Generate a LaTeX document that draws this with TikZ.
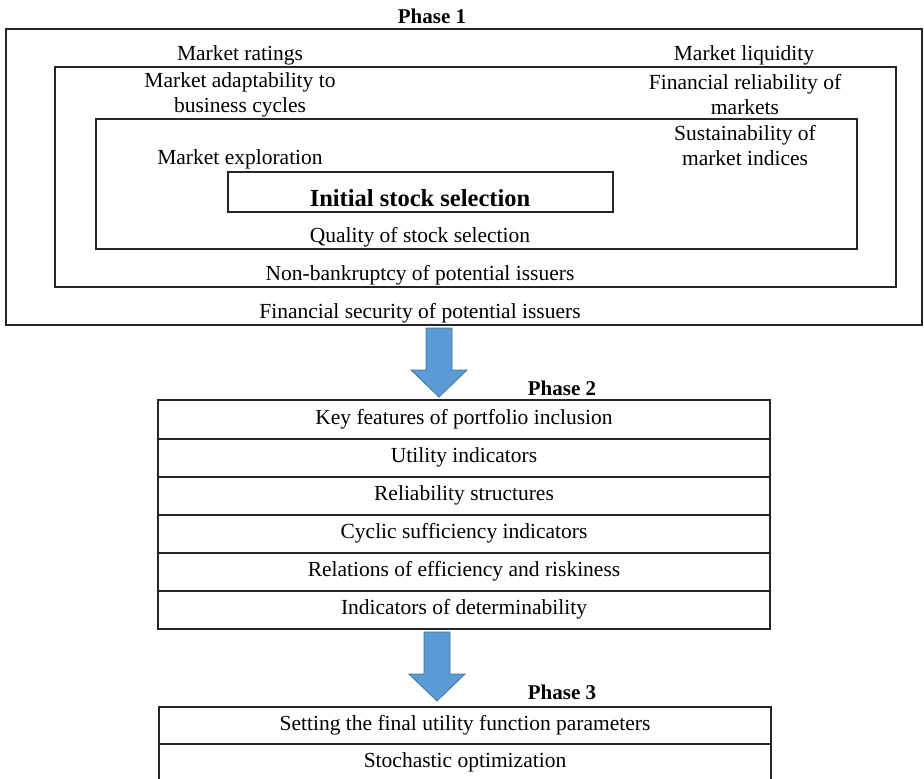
\documentclass[tikz,border=0pt]{standalone}
\usepackage{fontspec}
\setmainfont{Liberation Serif}
\definecolor{arrowfill}{HTML}{5B9BD5}
\definecolor{arrowline}{HTML}{41719C}

\begin{document}
\begin{tikzpicture}[x=1pt,y=-1pt,
	frame/.style={draw=black!85, line width=1.1pt},
	lbl/.style={font=\fontsize{21.5}{25}\selectfont, align=center, inner sep=0pt},
	phase/.style={font=\fontsize{21}{25}\selectfont\bfseries, inner sep=0pt},
	blockarrow/.style={fill=arrowfill, draw=arrowline, line width=0.8pt},
	downarrow/.pic={\draw[blockarrow] (-13,0) -- (13,0) -- (13,42) -- (28,42) -- (0,69) -- (-28,42) -- (-13,42) -- cycle;}]
	\useasboundingbox (0,0) rectangle (924,779);
	
	% Phase 1
	\node[phase] (phase1) at (432,16) {Phase 1};
	\draw[frame] (6,29) rectangle (922,325);
	\draw[frame] (55,67) rectangle (896,287);
	\draw[frame] (96,119) rectangle (857,249);
	\draw[frame] (228,172) rectangle (613,212);
	
	\node[lbl] (ratings) at (240,55) {Market ratings};
	\node[lbl] (liquidity) at (744,55) {Market liquidity};
	\node[lbl] (adapt) at (240,95) {Market adaptability to\\business cycles};
	\node[lbl] (reliab) at (745,95) {Financial reliability of\\markets};
	\node[lbl] (sustain) at (745,146) {Sustainability of\\market indices};
	\node[lbl] (explore) at (240,159) {Market exploration};
	\node[lbl, font=\fontsize{24.5}{28}\selectfont\bfseries] (initial) at (420,198) {Initial stock selection};
	\node[lbl] (quality) at (420,237) {Quality of stock selection};
	\node[lbl] (nonbank) at (420,275) {Non-bankruptcy of potential issuers};
	\node[lbl] (security) at (420,313) {Financial security of potential issuers};
	
	\pic at (439,328) {downarrow};
	
	% Phase 2
	\node[phase] (phase2) at (562,388) {Phase 2};
	\draw[frame] (158,400) rectangle (770,629);
	\foreach \y in {439,477,515,553,591}
		\draw[frame] (158,\y) -- (770,\y);
	\foreach \txt [count=\i] in {Key features of portfolio inclusion, Utility indicators, Reliability structures, Cyclic sufficiency indicators, Relations of efficiency and riskiness, Indicators of determinability}
		\node[lbl] (row\i) at (464,381+38*\i) {\txt};
	
	\pic at (437,632) {downarrow};
	
	% Phase 3
	\node[phase] (phase3) at (562,692) {Phase 3};
	\draw[frame] (159,779) |- (771,707) -- (771,779);
	\draw[frame] (159,744) -- (771,744);
	\node[lbl] (setting) at (465,725) {Setting the final utility function parameters};
	\node[lbl] (stochastic) at (465,762) {Stochastic optimization};
\end{tikzpicture}
\end{document}
